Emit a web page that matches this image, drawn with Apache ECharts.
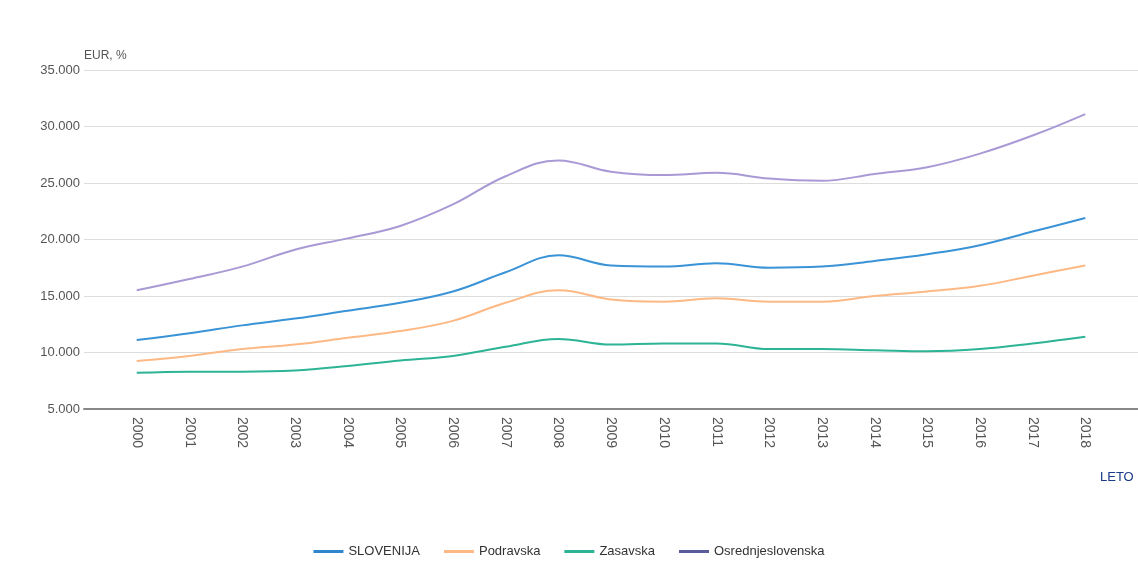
<!DOCTYPE html>
<html>
<head>
<meta charset="utf-8">
<script src="https://cdn.jsdelivr.net/npm/echarts@6/dist/echarts.min.js"></script>
<style>html,body{margin:0;padding:0;background:#fff}#c{width:1138px;height:572px}</style>
</head>
<body>
<div id="c"></div>
<script>
const years = [2000,2001,2002,2003,2004,2005,2006,2007,2008,2009,2010,2011,2012,2013,2014,2015,2016,2017,2018];
const slovenija = [11100,11700,12400,13000,13700,14400,15400,17100,18600,17700,17600,17900,17500,17600,18100,18700,19500,20700,21900];
const podravska = [9250,9700,10300,10700,11300,11900,12800,14400,15500,14700,14500,14800,14500,14500,15000,15400,15900,16800,17700];
const zasavska = [8200,8300,8300,8400,8800,9300,9700,10500,11200,10700,10800,10800,10300,10300,10200,10100,10300,10800,11400];
const osrednjeslovenska = [15500,16500,17600,19100,20100,21200,23100,25600,27000,26000,25700,25900,25400,25200,25800,26400,27600,29200,31100];
const yTicks = {min:5000, max:35000, interval:5000};

const chart = echarts.init(document.getElementById('c'));
const pairs = arr => years.map((y,i)=>[y, arr[i]]);
const mk = (name, data, color, legendColor) => ({
  name, type:'line', data:pairs(data), smooth:0.4, symbol:'none',
  lineStyle:{width:2, color}, itemStyle:{color: legendColor || color}
});
chart.setOption({
  animation:false,
  textStyle:{fontFamily:'Liberation Sans, Arial, sans-serif'},
  grid:{left:84, right:0, top:70, bottom:163},
  legend:{
    bottom:9, left:'center', itemWidth:30, itemHeight:3, itemGap:24, icon:'rect',
    textStyle:{fontSize:13, color:'#333'},
    data:['SLOVENIJA','Podravska','Zasavska','Osrednjeslovenska']
  },
  xAxis:{
    type:'value', min:years[0]-1, max:years[years.length-1]+1, interval:1,
    name:'LETO', nameLocation:'end', nameGap:-38,
    nameTextStyle:{color:'#1a3a8a', fontSize:13, verticalAlign:'top', padding:[62,0,0,0]},
    axisLine:{lineStyle:{color:'#888', width:2}},
    axisTick:{show:false},
    splitLine:{show:false},
    axisLabel:{rotate:-90, color:'#555', fontSize:14, margin:8,
      formatter:v=> (v>=years[0] && v<=years[years.length-1]) ? String(v) : ''}
  },
  yAxis:{
    type:'value', min:yTicks.min, max:yTicks.max, interval:yTicks.interval,
    name:'EUR, %', nameGap:8, nameTextStyle:{color:'#555', fontSize:12, align:'left'},
    axisLine:{show:false},
    axisTick:{show:false},
    axisLabel:{color:'#555', fontSize:13, margin:4, formatter:v=>v.toString().replace(/\B(?=(\d{3})+(?!\d))/g,'.')},
    splitLine:{lineStyle:{color:'#ddd', width:1}}
  },
  series:[
    mk('SLOVENIJA', slovenija, '#3a93d6', '#2f86cc'),
    mk('Podravska', podravska, '#fdb985', '#fdb985'),
    mk('Zasavska', zasavska, '#2db396', '#2db396'),
    mk('Osrednjeslovenska', osrednjeslovenska, '#a99ad6', '#5a5b9a')
  ]
});
</script>
</body>
</html>
